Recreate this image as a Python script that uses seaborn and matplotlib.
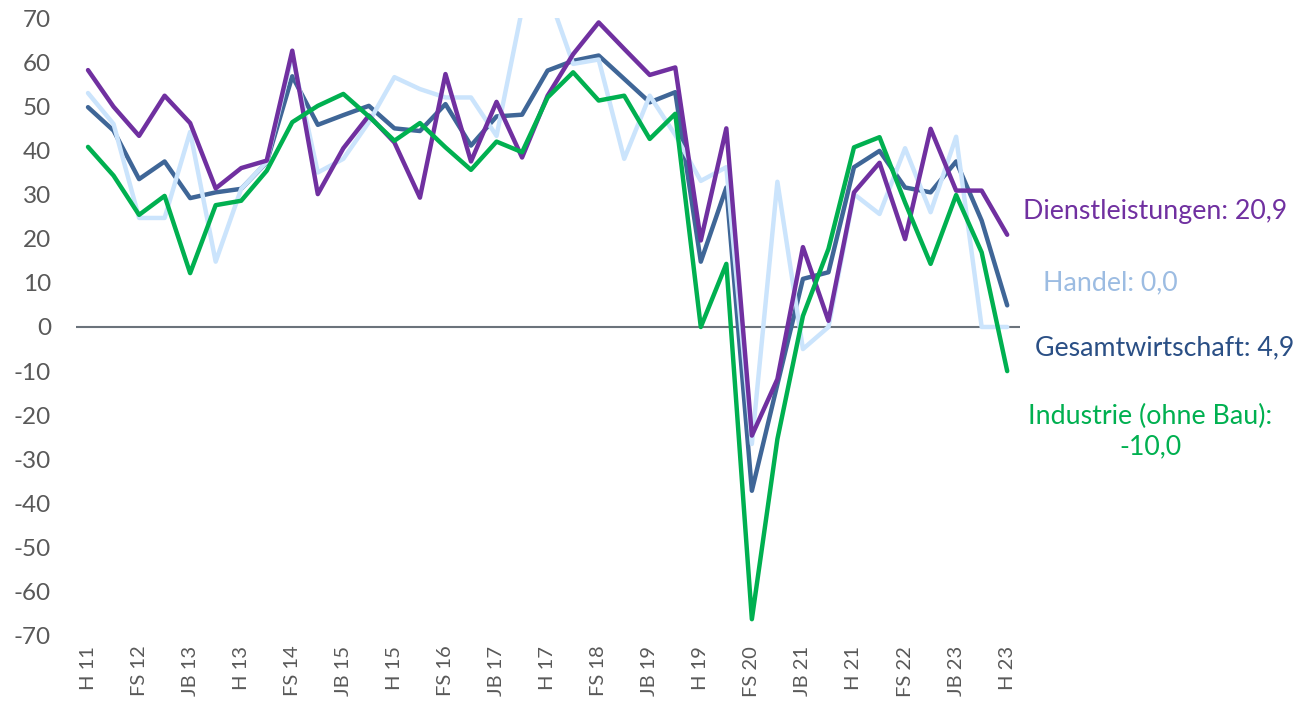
import matplotlib.pyplot as plt
import seaborn as sns
import pandas as pd
import numpy as np

periods = ['H 11', 'JB 12', 'FS 12', 'H 12', 'JB 13', 'FS 13', 'H 13',
           'JB 14', 'FS 14', 'H 14', 'JB 15', 'FS 15', 'H 15',
           'JB 16', 'FS 16', 'H 16', 'JB 17', 'FS 17', 'H 17',
           'JB 18', 'FS 18', 'H 18', 'JB 19', 'FS 19', 'H 19',
           'JB 20', 'FS 20', 'H 20', 'JB 21', 'FS 21', 'H 21',
           'JB 22', 'FS 22', 'H 22', 'JB 23', 'FS 23', 'H 23']

gesamtwirtschaft = [49.8, 44.5, 33.5, 37.5, 29.2, 30.5, 31.3, 37.3, 56.8, 45.8,
                    48.0, 50.1, 45.0, 44.4, 50.5, 41.1, 47.7, 48.1, 58.1, 60.3,
                    61.5, 56.2, 50.9, 53.2, 14.8, 31.6, -37.1, -13.0, 10.9, 12.4,
                    36.2, 39.9, 31.6, 30.5, 37.5, 24.1, 4.9]
handel = [53.0, 46.0, 24.7, 24.7, 44.2, 14.8, 31.3, 37.4, 61.5, 35.0,
          38.1, 46.4, 56.6, 53.9, 52.0, 52.0, 43.3, 72.0, 76.0, 59.6,
          60.6, 38.1, 52.4, 43.5, 33.1, 36.2, -26.5, 32.9, -5.0, 0.0,
          30.1, 25.6, 40.5, 26.0, 43.1, 0.0, 0.0]
dienstleistungen = [58.2, 49.9, 43.3, 52.4, 46.2, 31.4, 36.0, 37.7, 62.6, 30.1,
                    40.5, 47.9, 41.8, 29.3, 57.3, 37.5, 51.0, 38.4, 52.4, 61.8,
                    69.0, 63.0, 57.1, 58.8, 19.6, 45.0, -24.6, -11.8, 18.1, 1.4,
                    30.5, 37.2, 19.9, 44.9, 30.9, 30.9, 20.9]
industrie = [40.8, 34.3, 25.4, 29.7, 12.2, 27.6, 28.6, 35.4, 46.4, 50.1,
             52.8, 47.7, 42.2, 46.2, 40.7, 35.6, 42.0, 39.6, 52.0, 57.7,
             51.3, 52.4, 42.6, 48.3, 0.0, 14.3, -66.2, -25.4, 2.5, 17.7,
             40.7, 43.0, 28.2, 14.3, 29.9, 16.9, -10.0]

series_names = ['Gesamtwirtschaft', 'Handel', 'Dienstleistungen', 'Industrie (ohne Bau)']
colors = ['#3F6697', '#CBE4FC', '#7030A0', '#00B050']
label_colors = ['#2A4F85', '#9CBCE2', '#7030A0', '#00B050']
y_ticks = list(range(-70, 71, 10))

df = pd.DataFrame({
    'idx': np.arange(len(periods)),
    'Gesamtwirtschaft': gesamtwirtschaft,
    'Handel': handel,
    'Dienstleistungen': dienstleistungen,
    'Industrie (ohne Bau)': industrie,
})
long_df = df.melt(id_vars='idx', var_name='sektor', value_name='wert')

sns.set_style('white')
plt.rcParams['font.family'] = ['Lato', 'DejaVu Sans']

fig = plt.figure(figsize=(12.97, 7.09), dpi=100)
ax = fig.add_axes([0.0586, 0.103, 0.728, 0.8716])

ax.axhline(0, color='#6B737B', linewidth=1.5, zorder=1)
sns.lineplot(data=long_df, x='idx', y='wert', hue='sektor', hue_order=series_names,
             palette=dict(zip(series_names, colors)), linewidth=3.2,
             legend=False, ax=ax, zorder=2)

ax.set_xlim(-0.47, 36.51)
ax.set_ylim(-70, 70)
ax.set_yticks(y_ticks)
ax.set_yticklabels([str(t) for t in y_ticks], fontsize=17.5, color='#595959')
ax.set_xticks(np.arange(0, len(periods), 2))
ax.set_xticklabels(periods[::2], rotation=90, fontsize=14.5, color='#595959')
ax.tick_params(axis='y', length=0, pad=18)
ax.tick_params(axis='x', length=0, pad=7)
ax.set_xlabel('')
ax.set_ylabel('')
sns.despine(ax=ax, left=True, bottom=True)

# Beschriftungen rechts
last = {name: vals[-1] for name, vals in zip(series_names, [gesamtwirtschaft, handel, dienstleistungen, industrie])}
fmt = lambda v: f'{v:.1f}'.replace('.', ',')
fig.text(0.789, 0.701, f'Dienstleistungen: {fmt(last["Dienstleistungen"])}',
         color=label_colors[2], fontsize=19.3, va='center', ha='left')
fig.text(0.804, 0.601, f'Handel: {fmt(last["Handel"])}',
         color=label_colors[1], fontsize=19.3, va='center', ha='left')
fig.text(0.798, 0.509, f'Gesamtwirtschaft: {fmt(last["Gesamtwirtschaft"])}',
         color=label_colors[0], fontsize=19.3, va='center', ha='left')
fig.text(0.887, 0.391, f'Industrie (ohne Bau):\n{fmt(last["Industrie (ohne Bau)"])}',
         color=label_colors[3], fontsize=19.3, va='center', ha='center',
         multialignment='center', linespacing=1.25)

fig.savefig('out.png', dpi=100)
